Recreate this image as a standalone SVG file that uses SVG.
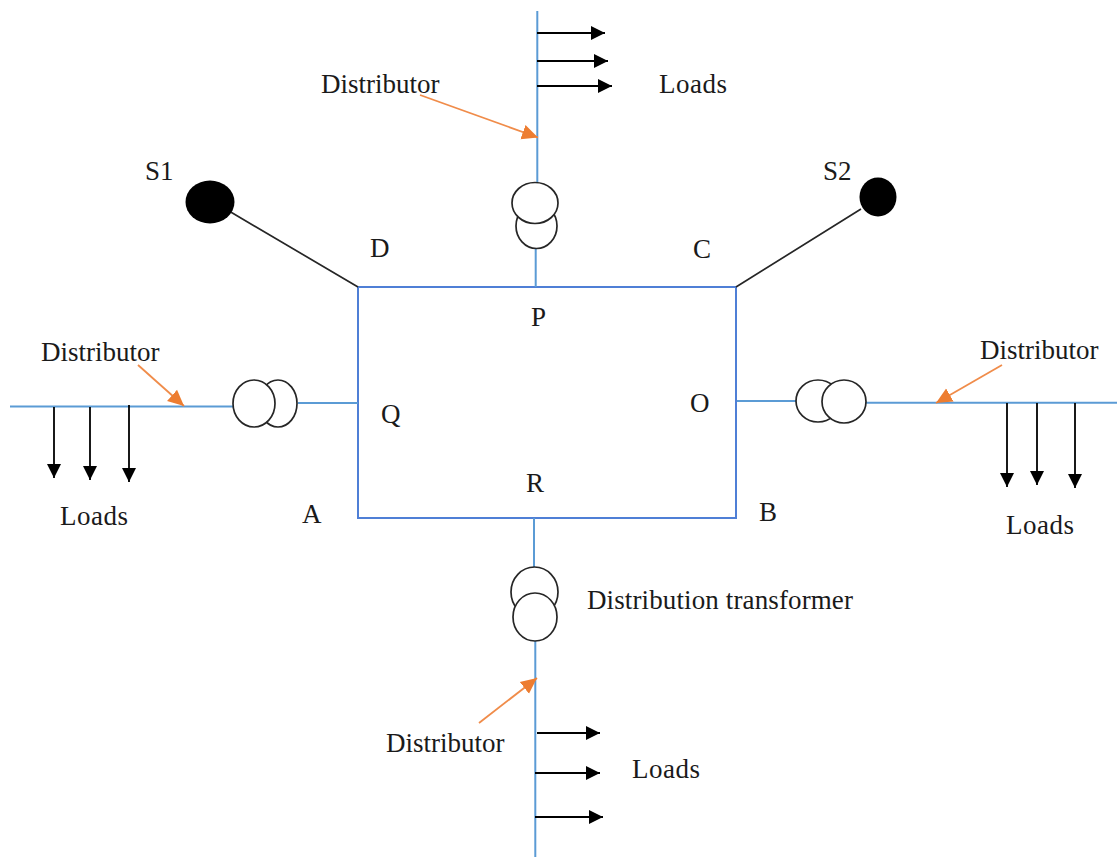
<svg xmlns="http://www.w3.org/2000/svg" width="1117" height="857" viewBox="0 0 1117 857">
<style>
text{font-family:"Liberation Serif","Times New Roman",serif;font-size:27px;fill:#1a1a1a}
.l{letter-spacing:.5px}
.w{letter-spacing:.12px}
.b{stroke:#5b9bd5;stroke-width:2;fill:none}
.r{stroke:#4f7fd6;stroke-width:2;fill:none}
.k{stroke:#262626;stroke-width:1.7;fill:none}
.a{stroke:#000;stroke-width:1.8;fill:none;marker-end:url(#ah)}
.o{stroke:#f08c4a;stroke-width:1.8;fill:none;marker-end:url(#oh)}
.t{stroke:#262626;stroke-width:1.7;fill:#fff}
</style>
<defs>
<marker id="ah" markerWidth="16" markerHeight="16" refX="14" refY="8" orient="auto" markerUnits="userSpaceOnUse"><path d="M0 1L14 8L0 15Z" fill="#000"/></marker>
<marker id="oh" markerWidth="18" markerHeight="16" refX="16" refY="8" orient="auto" markerUnits="userSpaceOnUse"><path d="M0 0.500L16 8L0 15.500Z" fill="#ed7d31"/></marker>
</defs>
<rect fill="#fff" width="1117" height="857"/>
<g id="connectors">
<path class="r" d="M358 287H736V518H358Z"/>
<path class="b" d="M537.300 11V185M535.700 245V287"/>
<path class="b" d="M534 518V570M535.300 640V857"/>
<path class="b" d="M10 406.500H235M298 403H358"/>
<path class="b" d="M737 401H800M864 402.700H1117"/>
<path class="k" d="M229 211L358 287M861 209L736 287"/>
<path class="a" d="M537 33H605"/><path class="a" d="M537 61H608"/><path class="a" d="M537 86H612"/>
<path class="a" d="M537 733H600"/><path class="a" d="M535 773H600"/><path class="a" d="M535 817H603"/>
<path class="a" d="M54 407V478"/><path class="a" d="M90 407V480"/><path class="a" d="M129 405V482"/>
<path class="a" d="M1007 403V487"/><path class="a" d="M1037 403V485"/><path class="a" d="M1075 403V488"/>
<path class="o" d="M420 95L538 137.500"/><path class="o" d="M138 365L184 406"/><path class="o" d="M1002 365L936 403"/><path class="o" d="M479 723L537 678"/>
</g>
<g id="S1"><ellipse cx="210" cy="202" rx="24.500" ry="21.500" fill="#000"/><text x="145" y="180">S1</text></g>
<g id="S2"><ellipse cx="878" cy="197" rx="18.500" ry="19.500" fill="#000"/><text x="823" y="180">S2</text></g>
<g id="transformer-top"><ellipse class="t" cx="536.500" cy="226" rx="20.500" ry="22.500"/><ellipse class="t" cx="535" cy="203" rx="23" ry="20.500"/></g>
<g id="transformer-bottom"><ellipse class="t" cx="534.500" cy="592" rx="23.500" ry="25"/><ellipse class="t" cx="535" cy="617" rx="22" ry="24"/></g>
<g id="transformer-left"><ellipse class="t" cx="278" cy="403.500" rx="19" ry="23.500"/><ellipse class="t" cx="254" cy="403.500" rx="21" ry="23.500"/></g>
<g id="transformer-right"><ellipse class="t" cx="818" cy="401" rx="22" ry="21"/><ellipse class="t" cx="844" cy="401.500" rx="22" ry="21.500"/></g>
<g id="labels">
<text x="321" y="93">Distributor</text><text class="l" x="659" y="93">Loads</text>
<text x="370" y="257">D</text><text x="693" y="258">C</text><text x="531" y="326">P</text>
<text x="41" y="361">Distributor</text><text x="980" y="359">Distributor</text>
<text x="381" y="423">Q</text><text x="690" y="412">O</text><text x="526" y="492">R</text>
<text x="302" y="523">A</text><text x="759" y="521">B</text>
<text class="l" x="60" y="525">Loads</text><text class="l" x="1006" y="534">Loads</text>
<text class="w" x="587" y="609">Distribution transformer</text>
<text x="386" y="752">Distributor</text><text class="l" x="632" y="778">Loads</text>
</g>
</svg>
